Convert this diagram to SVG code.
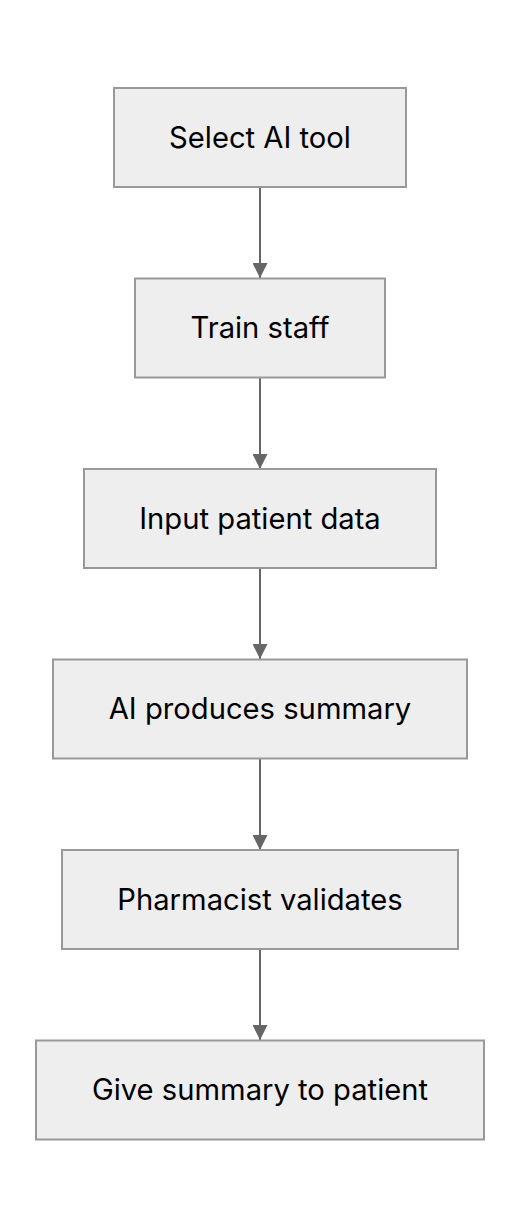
<svg xmlns="http://www.w3.org/2000/svg" width="520" height="1228" viewBox="0 0 520 1228">
<style>
.box{fill:#eeeeee;stroke:#999999;stroke-width:2}
.lbl{font-family:Inter,"Liberation Sans",sans-serif;font-size:29.2px;fill:#000;text-anchor:middle}
.edge{stroke:#666666;stroke-width:2;fill:none}
</style>
<defs>
<marker id="arr" viewBox="0 0 10 10" refX="10" refY="5" markerWidth="7.5" markerHeight="7.5" orient="auto" markerUnits="strokeWidth">
<path d="M0,0 L10,5 L0,10 z" fill="#666666"/>
</marker>
</defs>
<rect width="520" height="1228" fill="#ffffff"/>
<g id="connectors">
<line class="edge" x1="260" y1="188" x2="260" y2="278" marker-end="url(#arr)"/>
<line class="edge" x1="260" y1="378" x2="260" y2="469" marker-end="url(#arr)"/>
<line class="edge" x1="260" y1="568" x2="260" y2="659" marker-end="url(#arr)"/>
<line class="edge" x1="260" y1="759" x2="260" y2="850" marker-end="url(#arr)"/>
<line class="edge" x1="260" y1="949" x2="260" y2="1040" marker-end="url(#arr)"/>
</g>
<g id="n1"><rect class="box" x="114" y="88" width="292" height="99"/><text class="lbl" x="260" y="147.5">Select AI tool</text></g>
<g id="n2"><rect class="box" x="135" y="278.5" width="250" height="99"/><text class="lbl" x="260" y="338">Train staff</text></g>
<g id="n3"><rect class="box" x="84" y="469" width="352" height="99"/><text class="lbl" x="260" y="528.5">Input patient data</text></g>
<g id="n4"><rect class="box" x="53" y="659.5" width="414" height="99"/><text class="lbl" x="260" y="719">AI produces summary</text></g>
<g id="n5"><rect class="box" x="62" y="850" width="396" height="99"/><text class="lbl" x="260" y="909.5">Pharmacist validates</text></g>
<g id="n6"><rect class="box" x="36" y="1040.5" width="448" height="99"/><text class="lbl" x="260" y="1100">Give summary to patient</text></g>
</svg>
